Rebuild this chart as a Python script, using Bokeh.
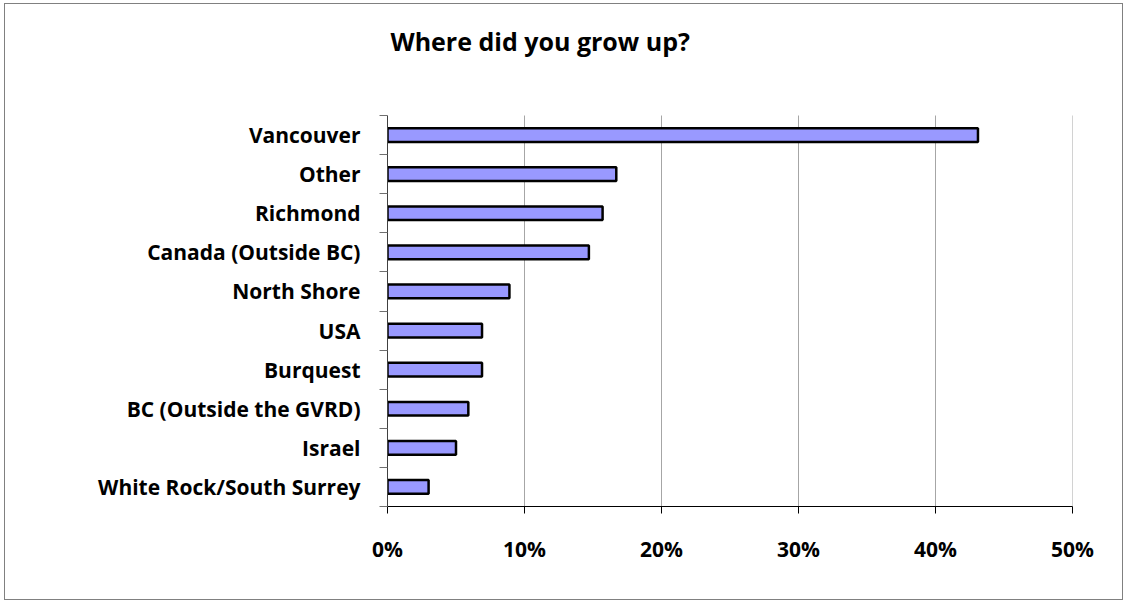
from bokeh.plotting import figure
from bokeh.models import FixedTicker, Range1d, ColumnDataSource
from bokeh.core.properties import value
from bokeh.embed import file_html
from bokeh.resources import INLINE

title_text = "Where did you grow up?"
categories = ["Vancouver", "Other", "Richmond", "Canada (Outside BC)", "North Shore",
              "USA", "Burquest", "BC (Outside the GVRD)", "Israel", "White Rock/South Surrey"]
values = [0.431, 0.167, 0.157, 0.147, 0.089, 0.069, 0.069, 0.059, 0.050, 0.030]
x_ticks = [0.0, 0.1, 0.2, 0.3, 0.4, 0.5]
x_tick_labels = ["0%", "10%", "20%", "30%", "40%", "50%"]

n = len(categories)
pos = [n - i - 0.5 for i in range(n)]
src = ColumnDataSource(dict(y=pos, right=values, cat=categories))

FONT = "Open Sans"

# frame: 498 px tall, one category = 39.1 px; the space above the categories holds the title
PITCH = 39.1
Y_TOP = 498 / PITCH

p = figure(width=1119, height=597, output_backend="svg", toolbar_location=None,
           x_range=Range1d(0, 0.5), y_range=Range1d(0, Y_TOP), title=None,
           min_border_left=382, min_border_right=52, min_border_top=4, min_border_bottom=95)
p.margin = (3, 0, 0, 4)

# vertical grid lines over the category area only
grid_x = x_ticks[1:]
p.segment(x0=grid_x, x1=grid_x, y0=[0] * len(grid_x), y1=[n] * len(grid_x),
          line_color="#a6a6a6", line_width=1)

p.hbar(y="y", right="right", left=0, height=0.35, source=src,
       fill_color="#9999FF", line_color="black", line_width=2.5)

# chart title
p.text(x=[0], y=[n + 75 / PITCH], text=[title_text], x_offset=3,
       text_baseline="middle", text_align="left",
       text_font=value(FONT), text_font_size="25px", text_font_style="bold",
       text_color="black")

# x axis
p.xaxis.ticker = FixedTicker(ticks=x_ticks)
p.xaxis.major_label_overrides = {t: l for t, l in zip(x_ticks, x_tick_labels)}
p.xaxis.major_label_text_font = FONT
p.xaxis.major_label_text_font_size = "21px"
p.xaxis.major_label_text_font_style = "bold"
p.xaxis.major_label_text_color = "black"
p.xaxis.major_tick_in = 0
p.xaxis.major_tick_out = 7
p.xaxis.minor_tick_line_color = None
p.xaxis.axis_line_color = "black"
p.xaxis.major_tick_line_color = "black"
p.xaxis.major_label_standoff = 21

# y axis
p.yaxis.ticker = FixedTicker(ticks=pos, minor_ticks=list(range(n + 1)))
p.yaxis.bounds = (0, n)
p.yaxis.major_label_overrides = {t: c for t, c in zip(pos, categories)}
p.yaxis.major_label_text_font = FONT
p.yaxis.major_label_text_font_size = "21px"
p.yaxis.major_label_text_font_style = "bold"
p.yaxis.major_label_text_color = "black"
p.yaxis.major_tick_in = 0
p.yaxis.major_tick_out = 0
p.yaxis.minor_tick_in = 0
p.yaxis.minor_tick_out = 8
p.yaxis.minor_tick_line_color = "#707070"
p.yaxis.axis_line_color = "#404040"
p.yaxis.major_label_standoff = 19

p.xgrid.grid_line_color = None
p.ygrid.grid_line_color = None
p.outline_line_color = None
p.background_fill_color = "white"
p.border_fill_color = "white"
p.styles = {"border": "1px solid #808080"}

open("out.html", "w").write(file_html(p, INLINE))
